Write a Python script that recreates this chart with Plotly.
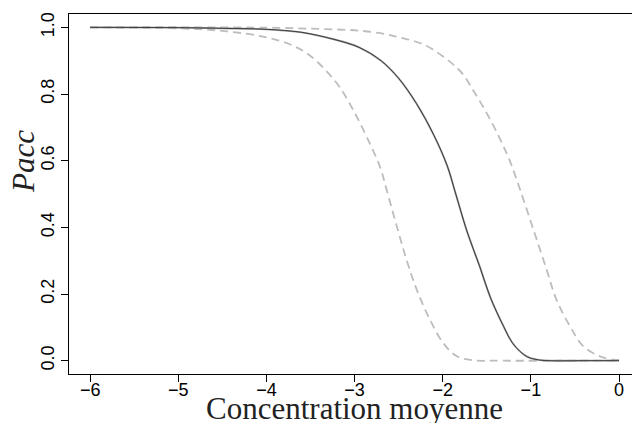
import plotly.graph_objects as go

# Central curve (solid)
x_mid = [-6.0, -5.0, -4.5, -4.0, -3.6, -3.25, -2.95, -2.7, -2.5, -2.3, -2.1,
         -1.95, -1.86, -1.73, -1.58, -1.46, -1.31, -1.2, -1.05, -0.93, -0.8, -0.4, 0.0]
p_mid = [1.000, 0.999, 0.997, 0.994, 0.985, 0.965, 0.940, 0.900, 0.847, 0.772, 0.676,
         0.585, 0.507, 0.392, 0.282, 0.190, 0.103, 0.050, 0.013, 0.003, 0.000, 0.000, 0.000]

# Lower bound (left dashed)
x_low = [-6.0, -5.0, -4.45, -4.0, -3.69, -3.5, -3.32, -3.165, -3.01, -2.86, -2.71,
         -2.635, -2.52, -2.41, -2.295, -2.145, -1.995, -1.84, -1.65, -1.4, 0.0]
p_low = [0.9997, 0.997, 0.988, 0.970, 0.944, 0.914, 0.869, 0.819, 0.749, 0.670, 0.580,
         0.511, 0.402, 0.302, 0.213, 0.123, 0.053, 0.013, 0.001, 0.000, 0.000]

# Upper bound (right dashed)
x_up = [-6.0, -4.0, -3.39, -2.94, -2.635, -2.48, -2.33, -2.18, -1.92, -1.77, -1.65,
        -1.50, -1.35, -1.24, -1.12, -0.97, -0.82, -0.71, -0.556, -0.405, -0.216, -0.065, 0.0]
p_up = [1.000, 0.999, 0.995, 0.990, 0.979, 0.969, 0.959, 0.944, 0.897, 0.859, 0.809,
        0.742, 0.665, 0.600, 0.511, 0.392, 0.272, 0.183, 0.103, 0.043, 0.013, 0.003, 0.002]

x_ticks = [-6, -5, -4, -3, -2, -1, 0]
y_ticks = [0.0, 0.2, 0.4, 0.6, 0.8, 1.0]
y_ticktext = ["0.0", "0.2", "0.4", "0.6", "0.8", "1.0"]

fig = go.Figure()
dash_style = dict(color="#bdbdbd", width=1.8, dash="8px,5px", shape="spline", smoothing=1.0)
fig.add_trace(go.Scatter(x=x_low, y=p_low, mode="lines", line=dash_style))
fig.add_trace(go.Scatter(x=x_up, y=p_up, mode="lines", line=dash_style))
fig.add_trace(go.Scatter(x=x_mid, y=p_mid, mode="lines",
                         line=dict(color="#a0a0a0", width=1.9, shape="spline", smoothing=1.0)))
fig.add_trace(go.Scatter(x=x_mid, y=p_mid, mode="lines",
                         line=dict(color="#222222", width=0.8, shape="spline", smoothing=1.0)))

tickfont = dict(family="Liberation Sans, Arial, sans-serif", size=18, color="black")
fig.update_layout(
    width=632, height=423,
    margin=dict(l=69, r=0, t=14, b=49),
    paper_bgcolor="white", plot_bgcolor="white",
    showlegend=False,
    xaxis=dict(range=[-6.24, 0.147], tickvals=x_ticks, ticks="outside", ticklen=7,
               tickwidth=1, tickcolor="black", showline=True, linecolor="black",
               linewidth=1.2, mirror=True, showgrid=False, zeroline=False,
               tickfont=tickfont, automargin=False, ticklabelstandoff=-8),
    yaxis=dict(range=[-0.04, 1.04], tickvals=y_ticks, ticktext=y_ticktext,
               ticks="outside", ticklen=7, tickwidth=1, tickcolor="black",
               showline=True, linecolor="black", linewidth=1.2, showgrid=False,
               zeroline=False, tickangle=-90, tickfont=tickfont, automargin=False),
    annotations=[
        dict(text="Concentration moyenne", xref="x", yref="paper", x=-3, y=0,
             xanchor="center", yanchor="middle", yshift=-34, showarrow=False,
             font=dict(family="Liberation Serif, Times New Roman, serif", size=31,
                       color="#222")),
        dict(text="<i>Pacc</i>", xref="paper", yref="paper", x=0, y=0.589,
             xanchor="center", yanchor="middle", xshift=-45, textangle=-90,
             showarrow=False,
             font=dict(family="Liberation Serif, Times New Roman, serif", size=31,
                       color="#222")),
    ],
)

fig.write_html("out.html", config={"displayModeBar": False},
               post_script="document.body.style.margin='0';")
